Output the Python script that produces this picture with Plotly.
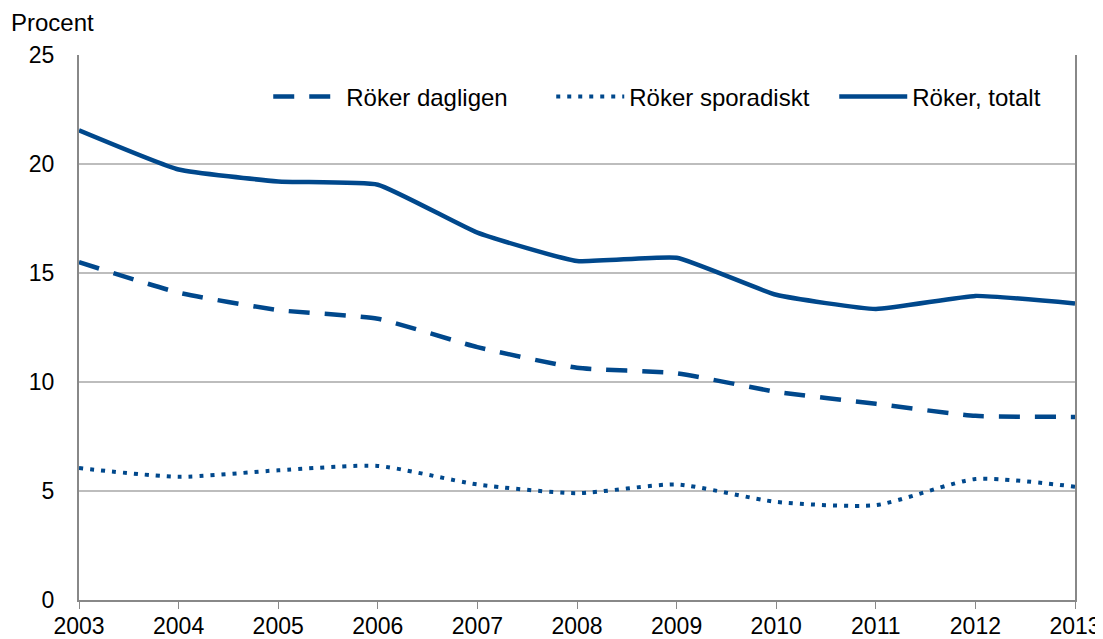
import plotly.graph_objects as go

years = [2003, 2004, 2005, 2006, 2007, 2008, 2009, 2010, 2011, 2012, 2013]
dagligen = [15.5, 14.1, 13.3, 12.9, 11.6, 10.65, 10.4, 9.55, 9.0, 8.45, 8.4]
sporadiskt = [6.05, 5.65, 5.95, 6.15, 5.3, 4.9, 5.3, 4.5, 4.35, 5.55, 5.2]
totalt = [21.55, 19.75, 19.2, 19.05, 16.85, 15.55, 15.7, 14.0, 13.35, 13.95, 13.6]

color = "#00488c"
font = "Liberation Sans, Arial, sans-serif"

fig = go.Figure()
fig.add_trace(go.Scatter(x=years, y=dagligen, mode="lines", name="Röker dagligen",
                         line=dict(color=color, width=4.5, dash="21px,15px", shape="spline", smoothing=0.5)))
fig.add_trace(go.Scatter(x=years, y=sporadiskt, mode="lines", name="Röker sporadiskt",
                         line=dict(color=color, width=4, dash="4px,7px", shape="spline", smoothing=0.6)))
fig.add_trace(go.Scatter(x=years, y=totalt, mode="lines", name="Röker, totalt",
                         line=dict(color=color, width=4.5, shape="spline", smoothing=0.4)))

# The page body adds an 8px margin, so the figure is sized to fit the window.
fig.update_layout(
    width=1095, height=631,
    margin=dict(l=71, r=28, t=47, b=39, autoexpand=False),
    paper_bgcolor="white", plot_bgcolor="white",
    font=dict(family=font, size=23, color="black"),
    showlegend=True,
    legend=dict(orientation="h", x=0.19, y=0.923, xanchor="left", yanchor="middle",
                bgcolor="rgba(0,0,0,0)", font=dict(size=24),
                entrywidth=200, entrywidthmode="pixels", itemwidth=68),
    xaxis=dict(range=[2003, 2013], tickvals=years, ticks="outside", ticklen=7,
               tickcolor="#888888", showline=True, linecolor="#888888", linewidth=2,
               showgrid=False, zeroline=False, mirror=False, automargin=False,
               ticklabelstandoff=-3),
    yaxis=dict(range=[0, 25], tickvals=[0, 5, 10, 15, 20, 25], ticks="",
               showline=True, linecolor="#888888", linewidth=2, mirror=True,
               showgrid=True, gridcolor="#bdbdbd", gridwidth=1.5, zeroline=False,
               ticklabelstandoff=18, automargin=False),
    annotations=[dict(text="Procent", x=0, y=1, xref="paper", yref="paper",
                      xshift=-70, yshift=33, showarrow=False, xanchor="left", yanchor="middle",
                      font=dict(size=24))],
)

fig.write_html("out.html")
